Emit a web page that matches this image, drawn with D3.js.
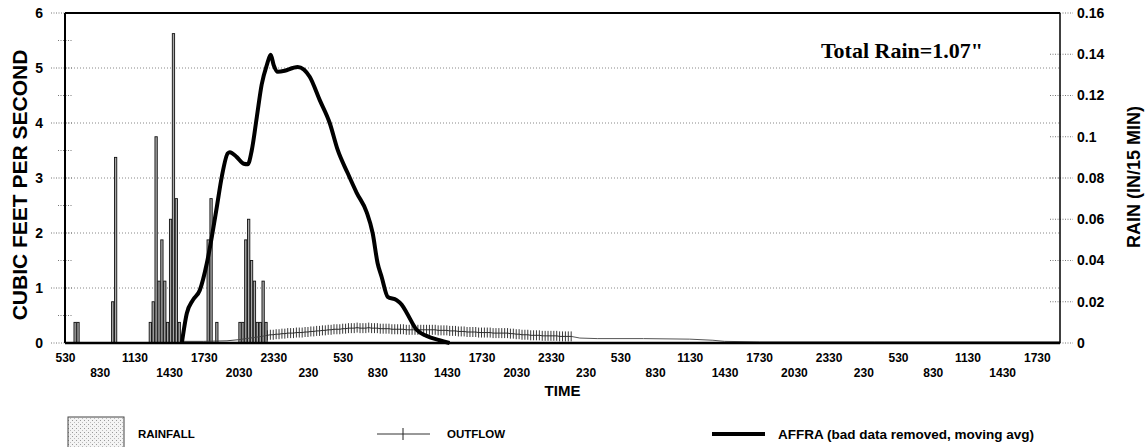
<!DOCTYPE html>
<html lang="en">
<head>
<meta charset="UTF-8">
<title>Rainfall, outflow and AFFRA</title>
<script src="https://d3js.org/d3.v7.min.js"></script>
<style>
  body { margin: 0; background: #fff; }
  svg { display: block; font-family: "Liberation Sans", Arial, sans-serif; }
</style>
</head>
<body>
<svg id="chart" width="1145" height="447"></svg>
<script>
// time is counted in hours from 5:30 on the first day
const timeLabels = ["530", "830", "1130", "1430", "1730", "2030", "2330", "230",
  "530", "830", "1130", "1430", "1730", "2030", "2330", "230",
  "530", "830", "1130", "1430", "1730", "2030", "2330", "230",
  "530", "830", "1130", "1430", "1730"];
const cfsTicks = [0, 1, 2, 3, 4, 5, 6];
const rainTicks = [0, 0.02, 0.04, 0.06, 0.08, 0.1, 0.12, 0.14, 0.16];

// rainfall, inches per 15 min; slot = number of 15 min steps after 5:30
const rainSlots = [3, 4, 16, 17, 29, 30, 31, 32, 33, 34, 35, 36, 37, 38, 39,
  49, 50, 52, 60, 61, 62, 63, 64, 65, 66, 67, 68, 69];
const rainIn = [0.01, 0.01, 0.02, 0.09, 0.01, 0.02, 0.10, 0.03, 0.05, 0.03, 0.01, 0.06, 0.15, 0.07, 0.01,
  0.05, 0.07, 0.01, 0.01, 0.01, 0.05, 0.06, 0.04, 0.03, 0.01, 0.01, 0.03, 0.01];

// AFFRA (bad data removed, moving avg), cfs
const affraHours = [10.1, 10.53, 11.05, 11.65, 12.26, 12.69, 13.12, 13.55, 14.07, 14.25, 14.85, 15.45,
  15.8, 16.14, 16.58, 17.0, 17.44, 17.78, 18.04, 18.39, 18.99, 19.68, 20.12, 21.15, 22.01, 22.88,
  23.57, 24.43, 25.21, 26.07, 26.59, 27.02, 27.37, 27.89, 28.66, 29.09, 29.53, 30.39, 31.25, 32.37, 33.24];
const affraCfs = [0, 0.54, 0.78, 0.96, 1.45, 1.93, 2.47, 3.02, 3.45, 3.47, 3.38, 3.26,
  3.25, 3.5, 4.11, 4.7, 5.05, 5.24, 5.05, 4.93, 4.95, 5.0, 5.02, 4.84, 4.42, 4.0,
  3.51, 3.09, 2.73, 2.38, 2.0, 1.45, 1.2, 0.84, 0.78, 0.7, 0.55, 0.24, 0.13, 0.05, 0];

// outflow, cfs: 15 min record with markers, plus the unmarked start and tail
const outflowStart = 17.5;
const outflowCfs = [
  0.14, 0.15, 0.15, 0.16, 0.16, 0.17, 0.17, 0.18, 0.18, 0.18, 0.19, 0.19,
  0.19, 0.20, 0.20, 0.21, 0.21, 0.22, 0.22, 0.23, 0.23, 0.24,
  0.24, 0.25, 0.25, 0.25, 0.26, 0.26,
  0.27, 0.27, 0.27, 0.28, 0.27, 0.27, 0.27, 0.28, 0.27, 0.27, 0.27, 0.26, 0.26,
  0.26, 0.26, 0.25, 0.25, 0.25, 0.25, 0.25, 0.24, 0.24, 0.24, 0.24, 0.24, 0.24,
  0.24, 0.24, 0.24, 0.24, 0.24, 0.23, 0.23, 0.23, 0.23, 0.22, 0.22, 0.22, 0.21,
  0.21, 0.21, 0.20, 0.20, 0.20, 0.20, 0.19, 0.19, 0.19, 0.19, 0.19, 0.18, 0.18,
  0.18, 0.18, 0.18, 0.18,
  0.17, 0.17, 0.16, 0.16, 0.15, 0.15, 0.15, 0.14, 0.14, 0.14, 0.14, 0.13, 0.13,
  0.13, 0.13, 0.13, 0.13, 0.12, 0.12, 0.12, 0.12, 0.12];
const outflowPreHours = [10, 12, 14, 15, 16, 17, 17.5];
const outflowPreCfs = [0.03, 0.03, 0.04, 0.06, 0.09, 0.12, 0.14];
const outflowTailHours = [43.75, 44.5, 46, 50, 54, 56, 57, 60, 70, 86];
const outflowTailCfs = [0.12, 0.09, 0.08, 0.08, 0.07, 0.05, 0.03, 0.02, 0.02, 0.02];

const svg = d3.select("#chart");
const plotL = 65, plotR = 1060, plotT = 13, plotB = 343;
const step = 0.25; // 15 minutes

const x = d3.scaleLinear().domain([0, 86]).range([plotL, plotR]);
const yL = d3.scaleLinear().domain([0, 6]).range([plotB, plotT]);
const yR = d3.scaleLinear().domain([0, 0.16]).range([plotB, plotT]);

// stipple pattern for the rainfall legend box
const pat = svg.append("defs").append("pattern")
  .attr("id", "stip").attr("width", 4).attr("height", 4)
  .attr("patternUnits", "userSpaceOnUse");
pat.append("rect").attr("width", 4).attr("height", 4).attr("fill", "#f4f4f4");
pat.append("rect").attr("x", 0).attr("y", 0).attr("width", 1).attr("height", 1).attr("fill", "#999");
pat.append("rect").attr("x", 2).attr("y", 2).attr("width", 1).attr("height", 1).attr("fill", "#bbb");

// gridlines
svg.append("g")
  .selectAll("line").data([1, 2, 3, 4, 5]).join("line")
  .attr("x1", plotL).attr("x2", plotR)
  .attr("y1", d => yL(d)).attr("y2", d => yL(d))
  .attr("stroke", "#888").attr("stroke-dasharray", "1,2");

// left axis
const axL = svg.append("g").attr("transform", `translate(${plotL},0)`)
  .call(d3.axisLeft(yL).tickValues(cfsTicks).tickSize(0).tickPadding(22).tickFormat(d3.format("d")));
axL.select(".domain").remove();
axL.selectAll("text").attr("font-size", 14).attr("font-weight", "bold").attr("fill", "#000")
  .attr("font-family", "Liberation Sans, Arial, sans-serif");
svg.append("g").selectAll("line").data(d3.range(0, 6.01, 0.5)).join("line")
  .attr("x1", d => d % 1 === 0 ? plotL - 14 : plotL - 7).attr("x2", plotL + 8)
  .attr("y1", d => yL(d)).attr("y2", d => yL(d))
  .attr("stroke", "#777").attr("stroke-dasharray", "1,1.5");

// right axis
const axR = svg.append("g").attr("transform", `translate(${plotR},0)`)
  .call(d3.axisRight(yR).tickValues(rainTicks).tickSize(0).tickPadding(17)
    .tickFormat(d => d === 0 ? "0" : d3.format(".2~f")(d)));
axR.select(".domain").remove();
axR.selectAll("text").attr("font-size", 14).attr("font-weight", "bold").attr("fill", "#000")
  .attr("font-family", "Liberation Sans, Arial, sans-serif");
svg.append("g").selectAll("line").data(rainTicks).join("line")
  .attr("x1", plotR - 10).attr("x2", plotR + 13)
  .attr("y1", d => yR(d)).attr("y2", d => yR(d))
  .attr("stroke", "#777").attr("stroke-dasharray", "1,1.5");

// bottom axis with labels on two rows
const axB = svg.append("g").attr("transform", `translate(0,${plotB})`)
  .call(d3.axisBottom(x).tickValues(timeLabels.map((t, i) => i * 3)).tickSize(0)
    .tickFormat((d, i) => timeLabels[i]));
axB.select(".domain").remove();
axB.selectAll("text")
  .attr("y", (d, i) => i % 2 ? 25 : 10)
  .attr("font-size", 12).attr("font-weight", "bold").attr("fill", "#000")
  .attr("font-family", "Liberation Sans, Arial, sans-serif");

// rainfall bars
svg.append("g").selectAll("rect").data(rainSlots).join("rect")
  .attr("x", d => x(d * step) + 0.3)
  .attr("width", x(step) - x(0) - 0.6)
  .attr("y", (d, i) => yR(rainIn[i]))
  .attr("height", (d, i) => plotB - yR(rainIn[i]))
  .attr("fill", "#a8a8a8").attr("stroke", "#111").attr("stroke-width", 0.9);

// outflow
const line = d3.line().x(d => x(d[0])).y(d => yL(d[1]));
const outPts = outflowCfs.map((v, i) => [outflowStart + i * step, v]);
svg.append("path").datum(outflowPreHours.map((h, i) => [h, outflowPreCfs[i]]))
  .attr("d", line).attr("fill", "none").attr("stroke", "#444").attr("stroke-width", 1);
svg.append("path").datum(outPts)
  .attr("d", line).attr("fill", "none").attr("stroke", "#333").attr("stroke-width", 1);
svg.append("path").datum(outflowTailHours.map((h, i) => [h, outflowTailCfs[i]]))
  .attr("d", line).attr("fill", "none").attr("stroke", "#555").attr("stroke-width", 1);
svg.append("g").selectAll("line").data(outPts).join("line")
  .attr("x1", d => x(d[0])).attr("x2", d => x(d[0]))
  .attr("y1", d => yL(d[1]) - 5).attr("y2", d => yL(d[1]) + 5)
  .attr("stroke", "#222").attr("stroke-width", 0.9);

// AFFRA
svg.append("path").datum(affraHours.map((h, i) => [h, affraCfs[i]]))
  .attr("d", d3.line().x(d => x(d[0])).y(d => yL(d[1])).curve(d3.curveMonotoneX))
  .attr("fill", "none").attr("stroke", "#000").attr("stroke-width", 4)
  .attr("stroke-linejoin", "round");

// frame
svg.append("line").attr("x1", plotL).attr("x2", plotR).attr("y1", plotT).attr("y2", plotT)
  .attr("stroke", "#000").attr("stroke-width", 2);
svg.append("line").attr("x1", plotL).attr("x2", plotR).attr("y1", plotB).attr("y2", plotB)
  .attr("stroke", "#000").attr("stroke-width", 2.5);
svg.append("line").attr("x1", plotL).attr("x2", plotL).attr("y1", plotT).attr("y2", plotB)
  .attr("stroke", "#000").attr("stroke-width", 2);
svg.append("line").attr("x1", plotR).attr("x2", plotR).attr("y1", plotT).attr("y2", plotB)
  .attr("stroke", "#000").attr("stroke-width", 1.5);

// titles
svg.append("text").attr("transform", "translate(27,185) rotate(-90)")
  .attr("text-anchor", "middle").attr("font-size", 21).attr("font-weight", "bold")
  .text("CUBIC FEET PER SECOND");
svg.append("text").attr("transform", "translate(1140,177) rotate(-90)")
  .attr("text-anchor", "middle").attr("font-size", 18).attr("font-weight", "bold")
  .text("RAIN (IN/15 MIN)");
svg.append("text").attr("x", (plotL + plotR) / 2).attr("y", 396)
  .attr("text-anchor", "middle").attr("font-size", 15).attr("font-weight", "bold")
  .text("TIME");
svg.append("text").attr("x", 983).attr("y", 58).attr("text-anchor", "end")
  .attr("font-family", "Liberation Serif, Times New Roman, serif")
  .attr("font-size", 22).attr("font-weight", "bold")
  .text("Total Rain=1.07\"");

// legend
const lg = svg.append("g").attr("font-size", 11.5).attr("font-weight", "bold");
lg.append("rect").attr("x", 68).attr("y", 417).attr("width", 56).attr("height", 36)
  .attr("fill", "url(#stip)").attr("stroke", "#444").attr("stroke-width", 1);
lg.append("text").attr("x", 138).attr("y", 438).text("RAINFALL");
lg.append("line").attr("x1", 377).attr("x2", 430).attr("y1", 434).attr("y2", 434)
  .attr("stroke", "#333").attr("stroke-width", 1);
lg.append("line").attr("x1", 403).attr("x2", 403).attr("y1", 428).attr("y2", 440)
  .attr("stroke", "#222").attr("stroke-width", 1);
lg.append("text").attr("x", 447).attr("y", 438).text("OUTFLOW");
lg.append("line").attr("x1", 712).attr("x2", 765).attr("y1", 434).attr("y2", 434)
  .attr("stroke", "#000").attr("stroke-width", 4);
lg.append("text").attr("x", 778).attr("y", 439).attr("font-size", 13.5)
  .text("AFFRA (bad data removed, moving avg)");
</script>
</body>
</html>
